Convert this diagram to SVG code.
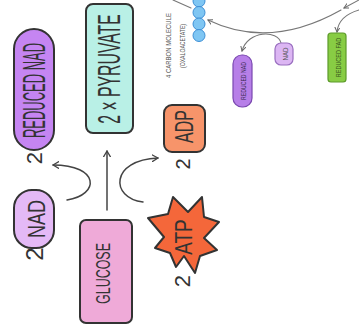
<svg xmlns="http://www.w3.org/2000/svg" width="359" height="332" viewBox="0 0 359 332">
<defs>
<marker id="ah" markerWidth="8" markerHeight="8" refX="6" refY="4" orient="auto" markerUnits="userSpaceOnUse">
<path d="M0,0.5 L6,4 L0,7.5" fill="none" stroke="#444" stroke-width="1.3" stroke-linecap="round" stroke-linejoin="round"/>
</marker>
<marker id="ahs" markerWidth="6" markerHeight="6" refX="4.5" refY="3" orient="auto" markerUnits="userSpaceOnUse">
<path d="M0,0.5 L4.5,3 L0,5.5" fill="none" stroke="#666" stroke-width="1" stroke-linecap="round"/>
</marker>
</defs>
<style>
.box{stroke:#333;stroke-width:2}
.lbl{font-family:"Liberation Sans",Arial,sans-serif;fill:#333;text-anchor:middle}
.sm{font-family:"Liberation Sans",Arial,sans-serif;fill:#555;text-anchor:middle}
.num{font-family:"Liberation Sans",Arial,sans-serif;fill:#333;text-anchor:middle}
.arr{fill:none;stroke:#444;stroke-width:1.5;stroke-linecap:round}
.arrs{fill:none;stroke:#777;stroke-width:1.1;stroke-linecap:round}
</style>
<rect width="359" height="332" fill="#fff"/>

<g id="connectors">
<path class="arr" d="M107,210 L107,151" marker-end="url(#ah)"/>
<path class="arr" d="M67,200 C100,195 100,165 53,165" marker-end="url(#ah)"/>
<path class="arr" d="M143,202 C110,198 110,160 158,158" marker-end="url(#ah)"/>
<path class="arrs" d="M341,10 Q270,50 208,20" marker-end="url(#ahs)"/>
<path class="arrs" d="M359,0 L344,8" marker-end="url(#ahs)"/>
<path class="arrs" d="M359,10 C345,14 338,22 337,32" marker-end="url(#ahs)"/>
<path class="arrs" d="M281,43 C278,30 248,30 242,51" marker-end="url(#ahs)"/>
<path class="arrs" d="M173,0 L191,8"/>
</g>

<g id="reduced-nad">
<rect class="box" x="14" y="29" width="40" height="121" rx="20" fill="#c585f2"/>
<text class="lbl" transform="translate(45,90.5) rotate(-90) scale(0.405,1)" font-size="32">REDUCED NAD</text>
<text class="num" transform="translate(42,158) rotate(-90)" font-size="22">2</text>
</g>

<g id="pyruvate">
<rect class="box" x="86" y="4" width="47" height="129" rx="7" fill="#b9f0e6"/>
<text class="lbl" transform="translate(120,69) rotate(-90) scale(0.494,1)" font-size="32">2 × PYRUVATE</text>
</g>

<g id="adp">
<rect class="box" x="164" y="105" width="41" height="47" rx="8" fill="#f7946a"/>
<text class="lbl" transform="translate(193,126.5) rotate(-90) scale(0.64,1)" font-size="25">ADP</text>
<text class="num" transform="translate(190,164) rotate(-90)" font-size="20">2</text>
</g>

<g id="nad">
<rect class="box" x="14" y="190" width="40" height="58" rx="18" fill="#e4b9f6"/>
<text class="lbl" transform="translate(45,219) rotate(-90) scale(0.75,1)" font-size="24">NAD</text>
<text class="num" transform="translate(43,254) rotate(-90)" font-size="24">2</text>
</g>

<g id="glucose">
<rect class="box" x="80" y="220" width="52" height="103" rx="6" fill="#efaad8"/>
<text class="lbl" transform="translate(110,273.5) rotate(-90) scale(0.594,1)" font-size="21">GLUCOSE</text>
</g>

<g id="atp">
<polygon class="box" fill="#f4673a" stroke-linejoin="round" points="173,197 188,212 202,197 204,217 219,222 204,238 217,250 200,256 195,273 184,256 176,267 170,253 155,248 164,237 148,218 168,214"/>
<text class="lbl" transform="translate(192,237) rotate(-90) scale(0.79,1)" font-size="24">ATP</text>
<text class="num" transform="translate(190,281) rotate(-90)" font-size="22">2</text>
</g>

<g id="oxaloacetate">
<circle cx="199" cy="1" r="6" fill="#7fc6f3" stroke="#3d8fd6" stroke-width="1"/>
<circle cx="199" cy="12.5" r="6" fill="#7fc6f3" stroke="#3d8fd6" stroke-width="1"/>
<circle cx="199" cy="24" r="6" fill="#7fc6f3" stroke="#3d8fd6" stroke-width="1"/>
<circle cx="199" cy="35.5" r="6" fill="#7fc6f3" stroke="#3d8fd6" stroke-width="1"/>
<text class="sm" transform="translate(171,45.5) rotate(-90) scale(0.746,1)" font-size="8">4 CARBON MOLECULE</text>
<text class="sm" transform="translate(185,46) rotate(-90) scale(0.643,1)" font-size="8">(OXALOACETATE)</text>
</g>

<g id="reduced-nad-2">
<rect x="233" y="55" width="19" height="52" rx="9" fill="#b77fe8" stroke="#7a48b0" stroke-width="1.2"/>
<text class="sm" style="fill:#3a2a50" transform="translate(246,81) rotate(-90) scale(0.647,1)" font-size="8">REDUCED NAD</text>
</g>

<g id="nad-2">
<rect x="275" y="43" width="18" height="22" rx="6" fill="#dcb6f3" stroke="#9a6fc0" stroke-width="1.2"/>
<text class="sm" transform="translate(288,54) rotate(-90) scale(0.77,1)" font-size="8">NAD</text>
</g>

<g id="reduced-fad">
<rect x="328" y="33" width="18" height="49" rx="3" fill="#88cc44" stroke="#5c9a2a" stroke-width="1.2"/>
<text class="sm" style="fill:#3c5a20" transform="translate(341,57.5) rotate(-90) scale(0.69,1)" font-size="8">REDUCED FAD</text>
</g>
</svg>
